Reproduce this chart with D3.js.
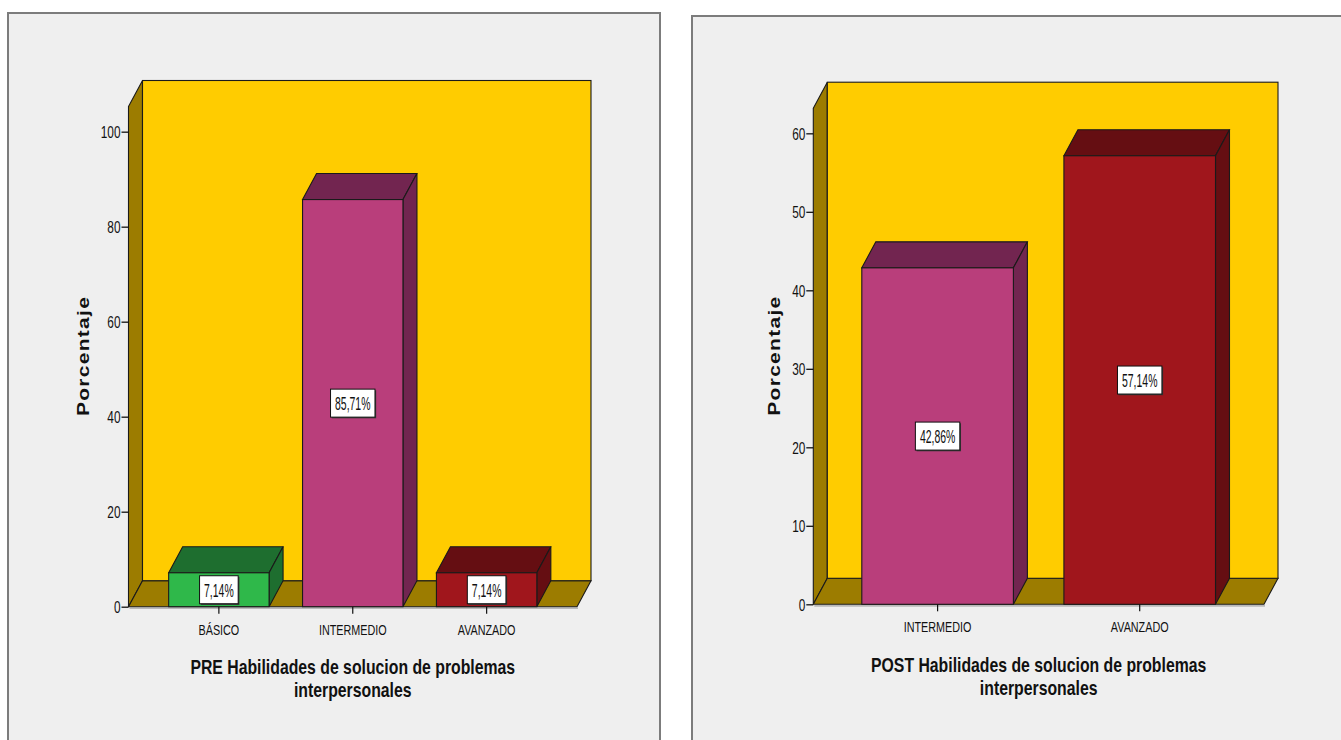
<!DOCTYPE html>
<html>
<head>
<meta charset="utf-8">
<script src="https://d3js.org/d3.v7.min.js"></script>
<style>
  html, body { margin: 0; padding: 0; background: #ffffff; }
  svg { display: block; }
  text { font-family: "Liberation Sans", Arial, sans-serif; fill: #111; }
</style>
</head>
<body>
<script>
// ---- data ----
const preCategories = ["BÁSICO", "INTERMEDIO", "AVANZADO"];
const prePercent = [7.14, 85.71, 7.14];
const preTicks = [0, 20, 40, 60, 80, 100];
const preTitle = ["PRE Habilidades de solucion de problemas", "interpersonales"];

const postCategories = ["INTERMEDIO", "AVANZADO"];
const postPercent = [42.86, 57.14];
const postTicks = [0, 10, 20, 30, 40, 50, 60];
const postTitle = ["POST Habilidades de solucion de problemas", "interpersonales"];

const yAxisTitle = "Porcentaje";

// ---- styles ----
const barColors = {
  "BÁSICO":     { front: "#2fb84a", shade: "#1e6e2f" },
  "INTERMEDIO": { front: "#b93e7b", shade: "#722550" },
  "AVANZADO":   { front: "#a0161c", shade: "#650e12" }
};
const wallColor = "#ffcc00";
const sideWallColor = "#9c7c00";
const edgeColor = "#1a1a1a";
const depthX = 14, depthY = -26;

const esLocale = d3.formatLocale({ decimal: ",", thousands: ".", grouping: [3], currency: ["", "€"] });
const pctFormat = v => esLocale.format(".2f")(v) + "%";

const svg = d3.select("body").append("svg")
  .attr("width", 1341).attr("height", 740);

// squeezed text helper (condensed look)
function place(sel, x, y, sx) {
  return sel.attr("transform", `translate(${x},${y}) scale(${sx},1)`);
}

function drawPanel(cfg) {
  const g = svg.append("g");

  // frame
  g.append("rect")
    .attr("x", cfg.frame[0]).attr("y", cfg.frame[1])
    .attr("width", cfg.frame[2]).attr("height", cfg.frame[3])
    .attr("fill", "#efefef").attr("stroke", "#7c7c7c").attr("stroke-width", 2);

  const y = d3.scaleLinear().domain([0, cfg.yMax]).range([cfg.y0, cfg.yTop]);
  const x = d3.scaleBand().domain(cfg.categories).range([cfg.x0, cfg.x1])
    .paddingInner(0.25).paddingOuter(cfg.padOuter);

  const x0 = cfg.x0, x1 = cfg.x1, yb = y(0), yt = y(cfg.yMax);

  // floor shadow
  g.append("line")
    .attr("x1", x0 + 1).attr("x2", x1 + 1).attr("y1", yb + 1.6).attr("y2", yb + 1.6)
    .attr("stroke", "#b9b9b9").attr("stroke-width", 1.6);

  // left wall
  g.append("polygon")
    .attr("points", [[x0, yt], [x0 + depthX, yt + depthY], [x0 + depthX, yb + depthY], [x0, yb]].join(" "))
    .attr("fill", sideWallColor).attr("stroke", edgeColor).attr("stroke-width", 1.1);
  // floor
  g.append("polygon")
    .attr("points", [[x0, yb], [x0 + depthX, yb + depthY], [x1 + depthX, yb + depthY], [x1, yb]].join(" "))
    .attr("fill", sideWallColor).attr("stroke", edgeColor).attr("stroke-width", 1.1);
  // back wall
  g.append("rect")
    .attr("x", x0 + depthX).attr("y", yt + depthY)
    .attr("width", x1 - x0).attr("height", yb - yt)
    .attr("fill", wallColor).attr("stroke", edgeColor).attr("stroke-width", 1.1);

  // bars
  const data = cfg.categories.map((c, i) => ({ cat: c, v: cfg.values[i] }));
  const bars = g.selectAll("g.bar").data(data).join("g").attr("class", "bar");
  bars.append("polygon") // top face
    .attr("points", d => {
      const bx = x(d.cat), bw = x.bandwidth(), yv = y(d.v);
      return [[bx, yv], [bx + depthX, yv + depthY], [bx + bw + depthX, yv + depthY], [bx + bw, yv]].join(" ");
    })
    .attr("fill", d => barColors[d.cat].shade).attr("stroke", edgeColor).attr("stroke-width", 1.1);
  bars.append("polygon") // side face
    .attr("points", d => {
      const bx = x(d.cat), bw = x.bandwidth(), yv = y(d.v);
      return [[bx + bw, yv], [bx + bw + depthX, yv + depthY], [bx + bw + depthX, yb + depthY], [bx + bw, yb]].join(" ");
    })
    .attr("fill", d => barColors[d.cat].shade).attr("stroke", edgeColor).attr("stroke-width", 1.1);
  bars.append("rect") // front face
    .attr("x", d => x(d.cat)).attr("y", d => y(d.v))
    .attr("width", x.bandwidth()).attr("height", d => yb - y(d.v))
    .attr("fill", d => barColors[d.cat].front).attr("stroke", edgeColor).attr("stroke-width", 1.1);

  // value labels
  bars.each(function (d) {
    const cx = x(d.cat) + x.bandwidth() / 2;
    const cy = (y(d.v) + yb) / 2;
    const lg = d3.select(this).append("g");
    const shadow = lg.append("rect");
    const box = lg.append("rect");
    const t = lg.append("text")
      .attr("text-anchor", "middle")
      .style("font-size", "19px")
      .text(pctFormat(d.v));
    place(t, cx, cy + 7, 0.55);
    const w = t.node().getComputedTextLength() * 0.55 + 9;
    const h = 28;
    shadow.attr("x", cx - w / 2 + 1.2).attr("y", cy - h / 2 + 1.2)
      .attr("width", w).attr("height", h).attr("fill", "#3a3a3a");
    box.attr("x", cx - w / 2).attr("y", cy - h / 2)
      .attr("width", w).attr("height", h)
      .attr("fill", "#ffffff").attr("stroke", "#111").attr("stroke-width", 1);
  });

  // y axis
  const yAxis = g.append("g").attr("transform", `translate(${x0},0)`)
    .call(d3.axisLeft(y).tickValues(cfg.ticks).tickSize(7).tickSizeOuter(0).tickFormat(d3.format("d")));
  yAxis.select(".domain").remove();
  yAxis.selectAll(".tick line").attr("stroke", "#111").attr("stroke-width", 1.3);
  yAxis.selectAll(".tick text")
    .attr("x", null).attr("dy", null)
    .attr("text-anchor", "end")
    .style("font-size", "16px").style("font-family", "Liberation Sans, Arial, sans-serif")
    .attr("fill", "#111")
    .attr("transform", "translate(-8,6) scale(0.74,1)");

  // category axis
  const xAxis = g.append("g").attr("transform", `translate(0,${yb})`)
    .call(d3.axisBottom(x).tickSize(7).tickSizeOuter(0));
  xAxis.select(".domain").remove();
  xAxis.selectAll(".tick line").attr("stroke", "#111").attr("stroke-width", 1.2);
  xAxis.selectAll(".tick text")
    .attr("y", null).attr("dy", null)
    .attr("text-anchor", "middle")
    .style("font-size", "15px").style("font-family", "Liberation Sans, Arial, sans-serif")
    .attr("fill", "#111")
    .attr("transform", "translate(0,28) scale(0.72,1)");

  // y axis title
  g.append("text")
    .attr("transform", `translate(${cfg.yLabelX},${(yb + yt) / 2}) scale(0.76,1) rotate(-90)`)
    .attr("text-anchor", "middle")
    .attr("textLength", 119).attr("lengthAdjust", "spacing")
    .style("font-size", "21px").style("font-weight", "bold")
    .text(yAxisTitle);

  // x axis title (two lines)
  const cx = (x0 + x1) / 2;
  cfg.title.forEach((line, i) => {
    const t = g.append("text")
      .attr("text-anchor", "middle")
      .style("font-size", "20px").style("font-weight", "bold")
      .text(line);
    place(t, cx, yb + 67.5 + i * 23, 0.79);
  });
}

drawPanel({
  frame: [8, 13, 652, 760],
  x0: 128.5, x1: 577, y0: 606.7, yTop: 106.5, yMax: 105.3, padOuter: 0.3,
  yLabelX: 89,
  categories: preCategories, values: prePercent, ticks: preTicks, title: preTitle
});

drawPanel({
  frame: [692, 16, 700, 760],
  x0: 813.3, x1: 1264, y0: 604.3, yTop: 108.2, yMax: 63.2, padOuter: 0.24,
  yLabelX: 780,
  categories: postCategories, values: postPercent, ticks: postTicks, title: postTitle
});

// y scale ranges above are set so that y(0) and y(yMax) land on the floor and wall top
</script>
</body>
</html>
